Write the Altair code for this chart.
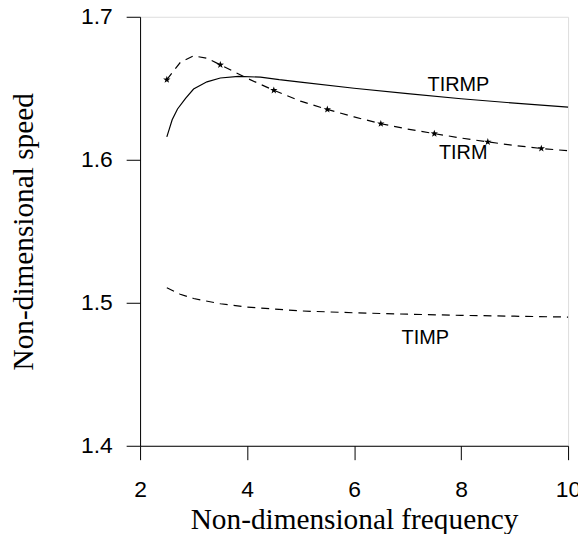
import altair as alt
import pandas as pd

# TIRMP (solid)
tirmp_x = [2.5, 2.55, 2.6, 2.7, 2.85, 3.0, 3.25, 3.5, 3.84, 4.25, 4.6, 5.0, 6.0, 7.0, 8.0, 9.0, 10.0]
tirmp_y = [1.616, 1.622, 1.628, 1.6355, 1.643, 1.6495, 1.6545, 1.6572, 1.6583, 1.6578, 1.656, 1.6543,
           1.650, 1.6462, 1.6427, 1.6396, 1.6368]

# TIRM (dashed)
tirm_x = [2.5, 2.75, 3.0, 3.25, 3.5, 4.0, 4.5, 5.0, 5.5, 6.0, 6.5, 7.0, 7.5, 8.0, 8.5, 9.0, 9.5, 10.0]
tirm_y = [1.656, 1.668, 1.6727, 1.671, 1.6664, 1.657, 1.6486, 1.641, 1.6352, 1.630, 1.6252, 1.6215,
          1.6183, 1.6152, 1.6125, 1.610, 1.6079, 1.6063]

# TIRM star markers
star_x = [2.5, 3.5, 4.5, 5.5, 6.5, 7.5, 8.5, 9.5]
star_y = [1.656, 1.6664, 1.6486, 1.6352, 1.6252, 1.6183, 1.6125, 1.6079]

# TIMP (dashed)
timp_x = [2.5, 2.75, 3.0, 3.5, 4.0, 5.0, 6.0, 7.0, 8.0, 9.0, 10.0]
timp_y = [1.5105, 1.506, 1.503, 1.4993, 1.497, 1.4943, 1.493, 1.492, 1.4912, 1.4906, 1.4900]

# labels
label_text = ["TIRMP", "TIRM", "TIMP"]
label_x = [7.95, 8.04, 7.33]
label_y = [1.652, 1.6044, 1.4755]

x_ticks = [2, 4, 6, 8, 10]
y_ticks = [1.4, 1.5, 1.6, 1.7]

df = pd.concat([
    pd.DataFrame({"x": tirmp_x, "y": tirmp_y, "s": "TIRMP", "k": "solid", "t": ""}),
    pd.DataFrame({"x": tirm_x, "y": tirm_y, "s": "TIRM", "k": "dash", "t": ""}),
    pd.DataFrame({"x": timp_x, "y": timp_y, "s": "TIMP", "k": "dash", "t": ""}),
    pd.DataFrame({"x": star_x, "y": star_y, "s": "TIRM", "k": "star", "t": ""}),
    pd.DataFrame({"x": label_x, "y": label_y, "s": label_text, "k": "label", "t": label_text}),
], ignore_index=True)

xs = alt.Scale(domain=[2, 10], nice=False, zero=False)
ys = alt.Scale(domain=[1.4, 1.7], nice=False, zero=False)

xaxis = alt.Axis(title="Non-dimensional frequency", values=x_ticks, format="d", grid=False,
                 orient="bottom",
                 tickSize=14, tickColor="black", domainColor="black", labelColor="black",
                 labelFont="Liberation Sans", labelFontSize=23, labelPadding=19,
                 titleFont="Liberation Serif", titleFontSize=29.5, titleFontWeight="normal",
                 titleColor="black", titlePadding=4, labelFlush=False)
yaxis = alt.Axis(title="Non-dimensional speed", values=y_ticks, format=".1f", grid=False,
                 orient="left",
                 tickSize=14, tickColor="black", domainColor="black", labelColor="black",
                 labelFont="Liberation Sans", labelFontSize=23, labelPadding=14,
                 titleFont="Liberation Serif", titleFontSize=29.5, titleFontWeight="normal",
                 titleColor="black", titlePadding=42, labelFlush=False)

base = alt.Chart(df).encode(
    x=alt.X("x:Q", scale=xs, axis=xaxis),
    y=alt.Y("y:Q", scale=ys, axis=yaxis),
)

solid = base.transform_filter(alt.datum.k == "solid").mark_line(color="black", strokeWidth=1.2)
dash = base.transform_filter(alt.datum.k == "dash").mark_line(
    color="black", strokeWidth=1.2, strokeDash=[8, 6]).encode(detail="s:N")
star_path = ("M0,-1 L0.235,-0.324 L0.951,-0.309 L0.380,0.124 L0.588,0.809 L0,0.4 "
             "L-0.588,0.809 L-0.380,0.124 L-0.951,-0.309 L-0.235,-0.324 Z")
stars = base.transform_filter(alt.datum.k == "star").mark_point(
    shape=star_path, filled=True, color="black", size=60, opacity=1)
labels = base.transform_filter(alt.datum.k == "label").mark_text(
    font="Liberation Sans", fontSize=20, color="black").encode(text="t:N")

chart = alt.layer(solid, dash, stars, labels).properties(
    width=431, height=432,
    autosize=alt.AutoSizeParams(type="none"),
    padding={"left": 133, "top": 7, "right": 10, "bottom": 87},
).configure_view(stroke=None).configure(background="white")

chart.save("out.html", embed_options={"renderer": "svg", "actions": False})
